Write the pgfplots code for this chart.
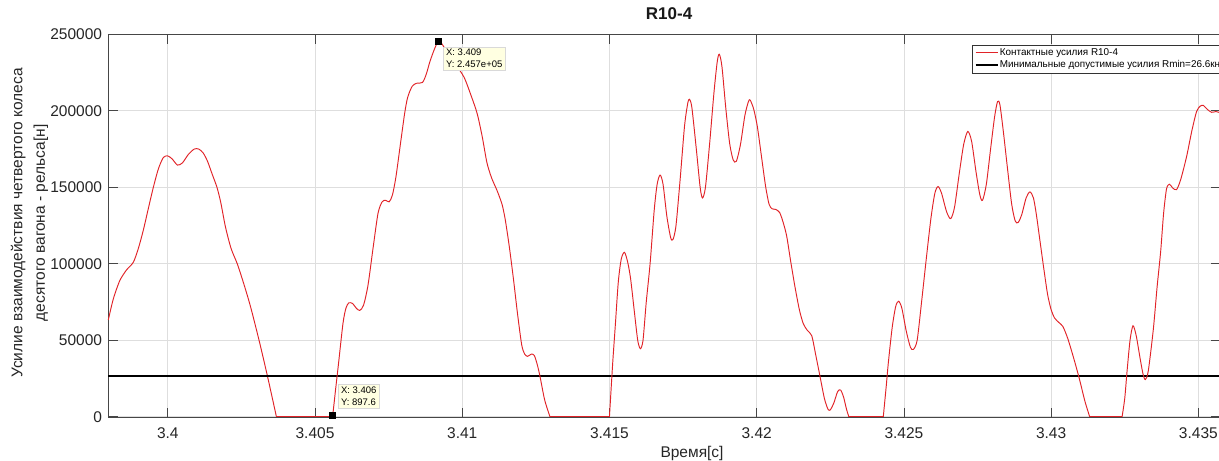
\documentclass[border=0pt]{standalone}
\usepackage{fontspec}
\setmainfont{Liberation Sans}
\usepackage{pgfplots}
\pgfplotsset{compat=1.18}
\definecolor{mred}{RGB}{225,35,40}
\definecolor{tipfill}{RGB}{255,255,225}
\definecolor{gridc}{RGB}{222,222,222}
\definecolor{axc}{RGB}{70,70,70}
\begin{document}
\begin{tikzpicture}
\begin{axis}[
  set layers,
  axis on top=false,
  scale only axis,
  width=1112.7bp, height=383.4bp,
  xmin=3.39798, xmax=3.43577,
  ymin=-600, ymax=250000,
  clip=false,
  scaled x ticks=false, scaled y ticks=false,
  xtick={3.4,3.405,3.41,3.415,3.42,3.425,3.43,3.435},
  xticklabels={3.4,3.405,3.41,3.415,3.42,3.425,3.43,3.435},
  ytick={0,50000,100000,150000,200000,250000},
  yticklabels={0,50000,100000,150000,200000,250000},
  /pgf/number format/assume math mode=true,
  tick align=inside,
  xtick pos=both, ytick pos=both,
  major tick length=10bp,
  tick style={axc, line width=0.6bp},
  axis line style={axc, line width=0.7bp},
  grid=major,
  major grid style={gridc, line width=0.6bp},
  tick label style={font=\fontsize{15.5bp}{18bp}\selectfont, text=black!85},
  xticklabel style={anchor=north, inner sep=0pt, yshift=-10bp},
  yticklabel style={anchor=east, inner sep=0pt, xshift=-6bp},
  title={R10-4},
  title style={at={(axis description cs:0.504,1.037)}, anchor=center, yshift=0pt, inner sep=0pt, font=\fontsize{17bp}{20bp}\selectfont\bfseries, text=black!90},
  xlabel={Время[с]},
  xlabel style={at={(axis description cs:0.5246,-0.104)}, anchor=base, inner sep=0pt, font=\fontsize{15.5bp}{18bp}\selectfont, text=black!85},
  ylabel={Усилие взаимодействия четвертого колеса\\десятого вагона - рельса[н]},
  ylabel style={at={(axis description cs:-0.0708,0.508)}, anchor=center, rotate=0, align=center, inner sep=0pt, font=\fontsize{15.5bp}{22.5bp}\selectfont, text=black!85},
  legend style={at={(axis description cs:0.7762,0.9721)}, anchor=north west, draw=black!80, line width=0.5bp, fill=white,
    font=\fontsize{9.9bp}{11bp}\selectfont, inner xsep=2bp, inner ysep=2.5bp, row sep=1.5bp, nodes={inner sep=1bp}},
  legend cell align=left,
  legend image code/.code={\draw[#1] (0bp,0bp) -- (22bp,0bp);},
]
\addplot[mred, line width=0.95bp, smooth, tension=0.45] coordinates {
(3.39798,63300)(3.39815,77000)(3.39837,89000)(3.39860,96000)(3.39883,101000)(3.39900,110000)
(3.39917,122000)(3.39935,137000)(3.39951,150000)(3.39968,162000)(3.39985,169500)(3.40000,170500)
(3.40015,168500)(3.40033,164500)(3.40050,166000)(3.40070,171500)(3.40090,175000)(3.40105,175000)
(3.40120,172500)(3.40135,167000)(3.40150,159000)(3.40167,150000)(3.40180,140000)(3.40196,124000)
(3.40215,110000)(3.40236,100000)(3.40258,87000)(3.40281,72000)(3.40310,50000)(3.40338,27000)
(3.40369,0)
};
\addlegendentry{Контактные усилия R10-4}
\addplot[black, line width=2.6bp] coordinates {(3.39798,26600) (3.43577,26600)};
\addlegendentry{Минимальные допустимые усилия Rmin=26.6кн}
\addplot[mred, line width=0.95bp, forget plot] coordinates {(3.40369,0)(3.40556,0)};
\addplot[mred, line width=0.95bp, forget plot] coordinates {(3.41298,0)(3.41500,0)};
\addplot[mred, line width=0.95bp, forget plot] coordinates {(3.42313,0)(3.42430,0)};
\addplot[mred, line width=0.95bp, forget plot] coordinates {(3.43131,0)(3.43241,0)};
\addplot[mred, line width=0.95bp, smooth, tension=0.45, forget plot] coordinates {
(3.40556,0)(3.40560,900)(3.40570,18000)(3.40580,35000)(3.40595,61000)(3.40605,71000)
(3.40615,74500)(3.40628,74000)(3.40640,71000)(3.40652,69500)(3.40665,73000)(3.40680,86000)
(3.40697,110000)(3.40714,133000)(3.40728,140500)(3.40740,141500)(3.40752,140500)(3.40763,145000)
(3.40775,157000)(3.40792,181000)(3.40805,199000)(3.40815,209000)(3.40830,216000)(3.40845,218000)
(3.40865,218500)(3.40878,224000)(3.40890,232000)(3.40905,240000)(3.40919,245700)(3.40930,244000)
(3.40950,238000)(3.40975,231000)(3.41006,222000)(3.41030,210000)(3.41051,198000)(3.41068,183000)
(3.41084,166000)(3.41100,156000)(3.41118,148000)(3.41135,139000)(3.41146,129000)(3.41160,111000)
(3.41174,90000)(3.41188,67000)(3.41202,47000)(3.41212,41000)(3.41222,39500)(3.41235,41000)
(3.41245,40000)(3.41255,34000)(3.41264,26500)(3.41280,11000)(3.41298,0)
};
\addplot[mred, line width=0.95bp, smooth, tension=0.45, forget plot] coordinates {
(3.41500,0)(3.41511,35000)(3.41520,60000)(3.41530,88000)(3.41540,103000)(3.41551,107500)(3.41562,101000)
(3.41572,90000)(3.41585,68000)(3.41596,50000)(3.41605,44500)(3.41614,50000)(3.41625,75000)
(3.41638,100000)(3.41652,135000)(3.41662,152000)(3.41672,158000)(3.41682,152000)(3.41695,131000)
(3.41708,117000)(3.41716,116000)(3.41726,125000)(3.41740,155000)(3.41755,190000)(3.41766,205000)
(3.41772,207500)(3.41780,202000)(3.41795,175000)(3.41808,150000)(3.41816,143000)(3.41826,150000)
(3.41840,178000)(3.41855,212000)(3.41866,232000)(3.41873,237000)(3.41882,229000)(3.41895,202000)
(3.41908,179000)(3.41920,168000)(3.41931,167000)(3.41945,178000)(3.41960,197000)(3.41972,206000)
(3.41978,207000)(3.41990,201000)(3.42002,190000)(3.42015,172000)(3.42030,151000)(3.42042,139000)
(3.42052,136000)(3.42065,135500)(3.42078,133500)(3.42090,127000)(3.42102,118000)(3.42116,101000)
(3.42130,85000)(3.42145,70000)(3.42158,61000)(3.42172,56500)(3.42187,53000)(3.42200,41000)
(3.42215,26500)(3.42230,12000)(3.42242,5000)(3.42250,4500)(3.42262,9000)(3.42275,16500)
(3.42285,17500)(3.42295,13000)(3.42305,5000)(3.42313,0)
};
\addplot[mred, line width=0.95bp, smooth, tension=0.45, forget plot] coordinates {
(3.42430,0)(3.42440,20000)
(3.42447,35000)(3.42460,58000)(3.42472,72000)(3.42482,75500)(3.42493,71000)(3.42508,56000)
(3.42522,45500)(3.42532,44000)(3.42545,50000)(3.42560,75000)(3.42577,105000)(3.42592,130000)
(3.42605,146000)(3.42616,150500)(3.42628,146000)(3.42645,134000)(3.42659,129500)(3.42672,137000)
(3.42688,159000)(3.42703,178000)(3.42717,186500)(3.42730,180000)(3.42745,160000)(3.42758,145000)
(3.42767,141500)(3.42780,152000)(3.42795,176000)(3.42808,196000)(3.42818,206000)(3.42826,204000)
(3.42838,186000)(3.42852,162000)(3.42866,139000)(3.42878,128000)(3.42888,127000)(3.42900,132000)
(3.42915,143000)(3.42928,147000)(3.42940,143000)(3.42950,132000)(3.42960,118000)(3.42975,97000)
(3.42988,80000)(3.43000,70000)(3.43012,64500)(3.43027,61500)(3.43040,59000)(3.43055,52000)
(3.43068,44000)(3.43083,34000)(3.43097,24000)(3.43115,10000)(3.43131,0)
};
\addplot[mred, line width=0.95bp, smooth, tension=0.45, forget plot] coordinates {
(3.43241,0)(3.43250,12000)(3.43258,30000)(3.43268,50000)(3.43278,59500)(3.43289,53000)(3.43301,39500)
(3.43312,28000)(3.43320,24300)(3.43330,30000)(3.43347,57000)(3.43360,85000)(3.43372,108000)
(3.43382,133000)(3.43392,149000)(3.43402,152000)(3.43413,149500)(3.43426,148500)(3.43440,155000)
(3.43460,170000)(3.43478,187000)(3.43494,199500)(3.43506,203000)(3.43517,203500)(3.43530,201000)
(3.43545,199000)(3.43560,199500)(3.43577,198500)
};
\addplot[only marks, mark=square*, mark size=3bp, black, forget plot] coordinates {(3.40560,897.6) (3.40919,245700)};
\node[anchor=south west, fill=tipfill, draw=black!15, line width=0.5bp, align=left, inner sep=2.5bp,
  font=\fontsize{9.5bp}{12bp}\selectfont, xshift=5.6bp, yshift=7.4bp] at (axis cs:3.40560,897.6) {X: 3.406\\Y: 897.6};
\node[anchor=north west, fill=tipfill, draw=black!15, line width=0.5bp, align=left, inner sep=2.5bp,
  font=\fontsize{9.5bp}{12bp}\selectfont, xshift=5bp, yshift=-5.7bp] at (axis cs:3.40919,245700) {X: 3.409\\Y: 2.457e+05};
\end{axis}
\pgfresetboundingbox
\path[use as bounding box] (-108.3bp,-43.3bp) rectangle (1110.7bp,417.7bp);
\end{tikzpicture}
\end{document}
